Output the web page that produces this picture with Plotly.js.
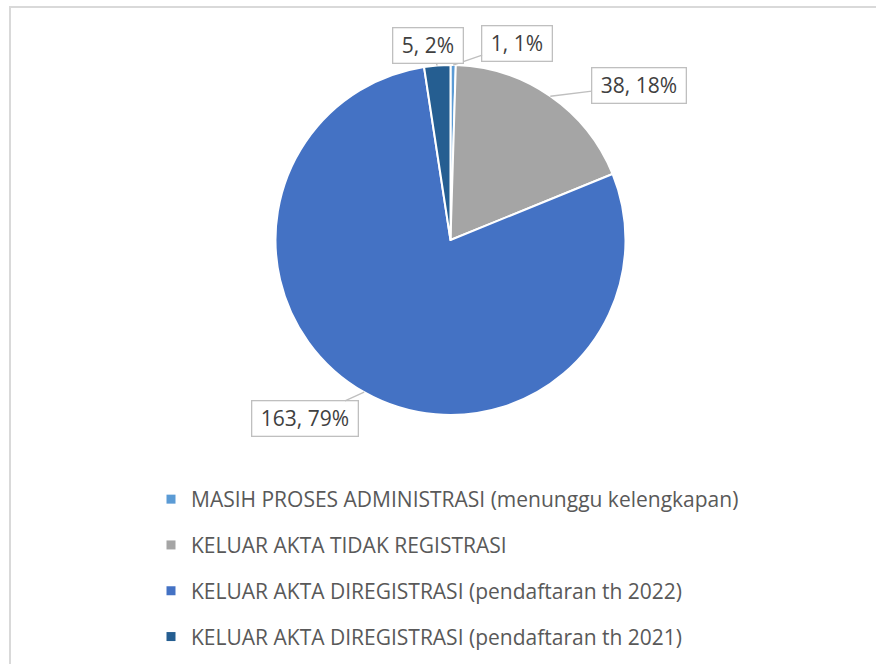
<!DOCTYPE html>
<html>
<head>
<meta charset="utf-8">
<script src="https://cdn.plot.ly/plotly-3.0.1.min.js"></script>
<style>
  html, body { margin: 0; padding: 0; background: #ffffff; }
  #chart { width: 876px; height: 664px; }
</style>
</head>
<body>
<div id="chart"></div>
<script>
// ---- data ----
const categories = [
  "MASIH PROSES ADMINISTRASI (menunggu kelengkapan)",
  "KELUAR AKTA TIDAK REGISTRASI",
  "KELUAR AKTA DIREGISTRASI (pendaftaran th 2022)",
  "KELUAR AKTA DIREGISTRASI (pendaftaran th 2021)"
];
const values = [1, 38, 163, 5];
const percentLabels = ["1%", "18%", "79%", "2%"];

// ---- styling ----
const colors = ["#5B9BD5", "#A5A5A5", "#4472C4", "#255E91"];
const W = 876, H = 664;
const pieCx = 450.5, pieCy = 240, pieR = 175;
const labelFont = { family: "Open Sans, sans-serif", size: 21, color: "#404040" };
const legendFont = { family: "Open Sans, sans-serif", size: 21, color: "#595959" };
// small manual nudges of the label boxes (pixels) to mimic the original placement
const labelNudge = [[29, 8], [35, 17], [0, -2], [27, 10]];

function px2x(px) { return px / W; }
function py2y(py) { return 1 - py / H; }

const ctx = document.createElement("canvas").getContext("2d");
ctx.font = labelFont.size + "px 'Open Sans'";

const total = values.reduce((a, b) => a + b, 0);
let cum = 0;
const annotations = values.map((v, i) => {
  const a0 = cum / total * 2 * Math.PI;
  cum += v;
  const a1 = cum / total * 2 * Math.PI;
  const th = (a0 + a1) / 2;
  const s = Math.sin(th), c = Math.cos(th);
  const text = v + ", " + percentLabels[i];
  const halfW = (ctx.measureText(text).width + 18) / 2;
  const halfH = 18;
  const tipX = pieCx + pieR * s, tipY = pieCy - pieR * c;
  const R = pieR + 12;
  const lx = pieCx + R * s + Math.sign(s) * halfW + labelNudge[i][0];
  const ly = pieCy - R * c - Math.sign(c) * halfH + labelNudge[i][1];
  return {
    x: px2x(tipX), y: py2y(tipY), xref: "paper", yref: "paper",
    text: "\u00a0" + text + "\u00a0",
    font: labelFont,
    showarrow: true, arrowhead: 0, arrowwidth: 1.3, arrowcolor: "#BFBFBF",
    standoff: 0, ax: lx - tipX, ay: ly - tipY,
    bgcolor: "#ffffff", bordercolor: "#BFBFBF", borderwidth: 1.3, borderpad: 3
  };
});

const traces = [{
  type: "pie",
  values: values,
  labels: categories,
  sort: false,
  direction: "clockwise",
  rotation: 0,
  textinfo: "none",
  showlegend: false,
  marker: { colors: colors, line: { color: "#ffffff", width: 2 } },
  domain: { x: [px2x(pieCx - pieR), px2x(pieCx + pieR)], y: [py2y(pieCy + pieR), py2y(pieCy - pieR)] },
  hovertemplate: "%{label}<br>%{value}, %{percent}<extra></extra>"
}];
categories.forEach((name, i) => {
  traces.push({
    type: "scatter", mode: "markers", x: [null], y: [null],
    name: name, legendgroup: "g" + i, showlegend: true,
    marker: { symbol: "square", size: 9, color: colors[i] },
    hoverinfo: "skip"
  });
});

const layout = {
  width: W, height: H,
  margin: { l: 0, r: 0, t: 0, b: 0 },
  paper_bgcolor: "#ffffff", plot_bgcolor: "#ffffff",
  xaxis: { visible: false }, yaxis: { visible: false },
  showlegend: true,
  legend: {
    orientation: "v", x: px2x(151), xanchor: "left", y: py2y(479), yanchor: "top",
    font: legendFont, tracegroupgap: 15.5, bgcolor: "rgba(0,0,0,0)", itemclick: false, itemdoubleclick: false
  },
  annotations: annotations,
  shapes: [{
    type: "rect", xref: "paper", yref: "paper",
    x0: px2x(10), y0: py2y(7), x1: 1.2, y1: -0.2,
    line: { color: "#D9D9D9", width: 2 }, fillcolor: "rgba(0,0,0,0)"
  }]
};

Plotly.newPlot("chart", traces, layout, { displayModeBar: false, staticPlot: false });
</script>
</body>
</html>
